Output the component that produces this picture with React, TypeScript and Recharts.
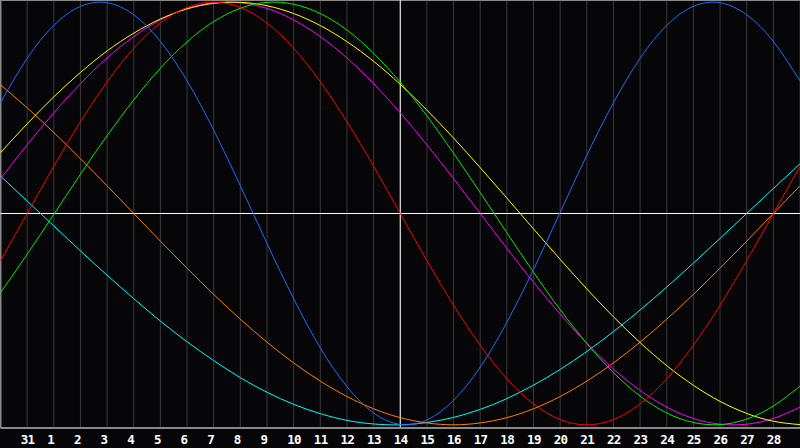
import React from "react";
import { LineChart, Line, XAxis, YAxis, CartesianGrid, ReferenceLine } from "recharts";

// day labels for index 0..30
const dayLabels = ["30", "31", "1", "2", "3", "4", "5", "6", "7", "8", "9", "10", "11", "12", "13", "14", "15", "16", "17", "18", "19", "20", "21", "22", "23", "24", "25", "26", "27", "28", "29"];
const tickIdx = [1, 2, 3, 4, 5, 6, 7, 8, 9, 10, 11, 12, 13, 14, 15, 16, 17, 18, 19, 20, 21, 22, 23, 24, 25, 26, 27, 28, 29];

const physical = [0.524, 0.734, 0.890, 0.980, 0.997, 0.940, 0.814, 0.628, 0.394, 0.131, -0.142, -0.403, -0.636, -0.819, -0.944, -0.998, -0.977, -0.884, -0.727, -0.515, -0.265, 0.005, 0.275, 0.524, 0.734, 0.890, 0.980, 0.997, 0.940, 0.814, 0.628];
const emotional = [-0.223, 0, 0.223, 0.434, 0.623, 0.782, 0.901, 0.975, 1.0, 0.975, 0.901, 0.782, 0.623, 0.434, 0.223, 0, -0.223, -0.434, -0.623, -0.782, -0.901, -0.975, -1.0, -0.975, -0.901, -0.782, -0.623, -0.434, -0.223, 0, 0.223];
const intellectual = [-0.375, -0.193, -0.004, 0.186, 0.368, 0.537, 0.687, 0.812, 0.908, 0.971, 0.999, 0.990, 0.946, 0.868, 0.758, 0.621, 0.462, 0.285, 0.099, -0.091, -0.278, -0.455, -0.615, -0.753, -0.864, -0.944, -0.989, -0.999, -0.973, -0.911, -0.817];
const intuitive = [0.165, 0.325, 0.476, 0.614, 0.736, 0.837, 0.916, 0.970, 0.997, 0.997, 0.970, 0.916, 0.837, 0.736, 0.614, 0.476, 0.325, 0.165, 0, -0.165, -0.325, -0.476, -0.614, -0.736, -0.837, -0.916, -0.970, -0.997, -0.997, -0.970, -0.916];
const aesthetic = [0.288, 0.424, 0.552, 0.667, 0.769, 0.853, 0.920, 0.968, 0.994, 0.999, 0.983, 0.946, 0.889, 0.813, 0.720, 0.611, 0.489, 0.357, 0.217, 0.073, -0.073, -0.217, -0.357, -0.489, -0.611, -0.720, -0.813, -0.889, -0.946, -0.983, -0.999];
const awareness = [0.609, 0.500, 0.383, 0.259, 0.131, 0, -0.131, -0.259, -0.383, -0.500, -0.609, -0.707, -0.793, -0.866, -0.924, -0.966, -0.991, -1.0, -0.991, -0.966, -0.924, -0.866, -0.793, -0.707, -0.609, -0.500, -0.383, -0.259, -0.131, 0, 0.131];
const spiritual = [0.177, 0.059, -0.059, -0.177, -0.292, -0.403, -0.509, -0.607, -0.696, -0.777, -0.846, -0.903, -0.947, -0.979, -0.996, -1.0, -0.989, -0.965, -0.927, -0.876, -0.812, -0.738, -0.653, -0.559, -0.457, -0.348, -0.235, -0.118, 0, 0.118, 0.235];

const data = dayLabels.map((d, i) => ({
  i,
  physical: physical[i],
  emotional: emotional[i],
  intellectual: intellectual[i],
  intuitive: intuitive[i],
  aesthetic: aesthetic[i],
  awareness: awareness[i],
  spiritual: spiritual[i],
}));

const DayTick = (props: any) => {
  const { x, y, payload } = props;
  return (
    <text
      x={x - 6.5}
      y={y + 15.5}
      textAnchor="start"
      fill="#ffffff"
      fontFamily="'DejaVu Sans Mono', monospace"
      fontWeight="bold"
      fontSize={12.5}
      letterSpacing={-0.6}
    >
      {dayLabels[payload.value]}
    </text>
  );
};

const series: [string, string][] = [
  ["spiritual", "#00ffff"],
  ["awareness", "#ff8000"],
  ["intuitive", "#ff00ff"],
  ["aesthetic", "#ffff00"],
  ["intellectual", "#00ee00"],
  ["emotional", "#ff0000"],
  ["physical", "#1e6eff"],
];

export default function App() {
  return (
    <div style={{ position: "absolute", left: 0, top: 0, width: 800, height: 448, background: "#060609" }}>
      <LineChart width={800} height={448} data={data} margin={{ top: 0, right: 0, left: 0.5, bottom: 0 }}>
        <CartesianGrid horizontal={false} stroke="#3a3a3a" strokeWidth={1} />
        <XAxis
          dataKey="i"
          type="number"
          domain={[0, 30]}
          ticks={tickIdx}
          interval={0}
          height={20}
          tickLine={false}
          tickSize={0}
          tickMargin={0}
          axisLine={{ stroke: "#8a8a8a", strokeWidth: 2 }}
          tick={<DayTick />}
        />
        <YAxis hide type="number" domain={[-1.015, 1.01]} allowDataOverflow />
        <ReferenceLine x={0} stroke="#8a8a8a" strokeWidth={2} />
        <ReferenceLine y={1.01} stroke="#8a8a8a" strokeWidth={2} />
        <ReferenceLine x={15} stroke="#ffffff" strokeWidth={1} />
        <ReferenceLine y={0} stroke="#ffffff" strokeWidth={1} />
        {series.map(([key, color]) => (
          <Line
            key={key}
            type="natural"
            dataKey={key}
            stroke={color}
            strokeWidth={1}
            dot={false}
            activeDot={false}
            isAnimationActive={false}
          />
        ))}
      </LineChart>
    </div>
  );
}
